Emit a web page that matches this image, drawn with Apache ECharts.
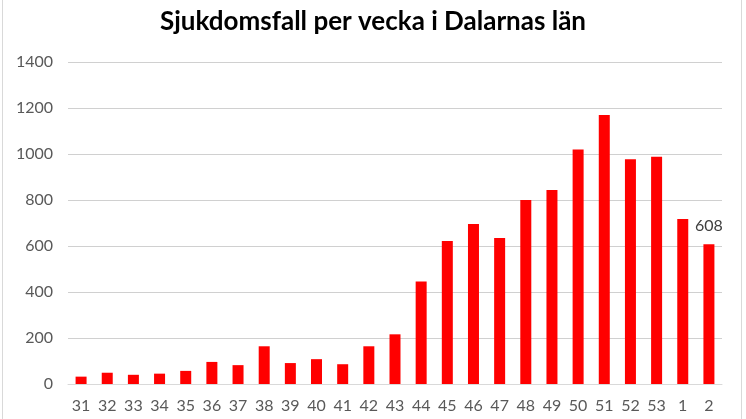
<!DOCTYPE html>
<html>
<head>
<meta charset="utf-8">
<script src="https://cdn.jsdelivr.net/npm/echarts@6/dist/echarts.min.js"></script>
<style>
html,body{margin:0;padding:0;background:#fff;}
#frame{position:absolute;left:2px;top:-2px;width:740px;height:430px;border:1px solid #d9d9d9;box-sizing:border-box;}
#chart{position:absolute;left:0;top:0;width:746px;height:419px;}
</style>
</head>
<body>
<div id="frame"></div>
<div id="chart"></div>
<script>
const weeks = ['31','32','33','34','35','36','37','38','39','40','41','42','43','44','45','46','47','48','49','50','51','52','53','1','2'];
const cases = [32,49,40,45,57,96,82,164,91,108,86,164,216,446,622,696,635,800,843,1020,1170,977,988,717,608];
const yTicks = {min:0, max:1400, interval:200};
const labelledIndex = 24;

const chart = echarts.init(document.getElementById('chart'), null, {renderer:'canvas'});
chart.setOption({
  animation:false,
  backgroundColor:'transparent',
  title:{
    text:'Sjukdomsfall per vecka i Dalarnas län',
    left:'center', top:4,
    textStyle:{fontFamily:'Lato', fontWeight:'bold', fontSize:26, color:'#000'}
  },
  grid:{left:68, right:24, top:62, bottom:35},
  xAxis:{
    type:'category', data:weeks,
    axisLine:{lineStyle:{color:'#d9d9d9'}},
    axisTick:{show:false},
    axisLabel:{color:'#595959', fontFamily:'Lato', fontSize:16, margin:14, interval:0}
  },
  yAxis:{
    type:'value', min:yTicks.min, max:yTicks.max, interval:yTicks.interval,
    axisLine:{show:false}, axisTick:{show:false},
    axisLabel:{color:'#595959', fontFamily:'Lato', fontSize:16, margin:15, formatter:(v)=>String(v)},
    splitLine:{lineStyle:{color:'#d0d0d0', type:'solid'}}
  },
  series:[{
    type:'bar',
    data:cases.map((v,i)=> i===labelledIndex ? {value:v, label:{show:true, position:'top', distance:10, color:'#404040', fontFamily:'Lato', fontSize:16}} : v),
    barWidth:11,
    itemStyle:{color:'#ff0000'}
  }]
});
</script>
</body>
</html>
